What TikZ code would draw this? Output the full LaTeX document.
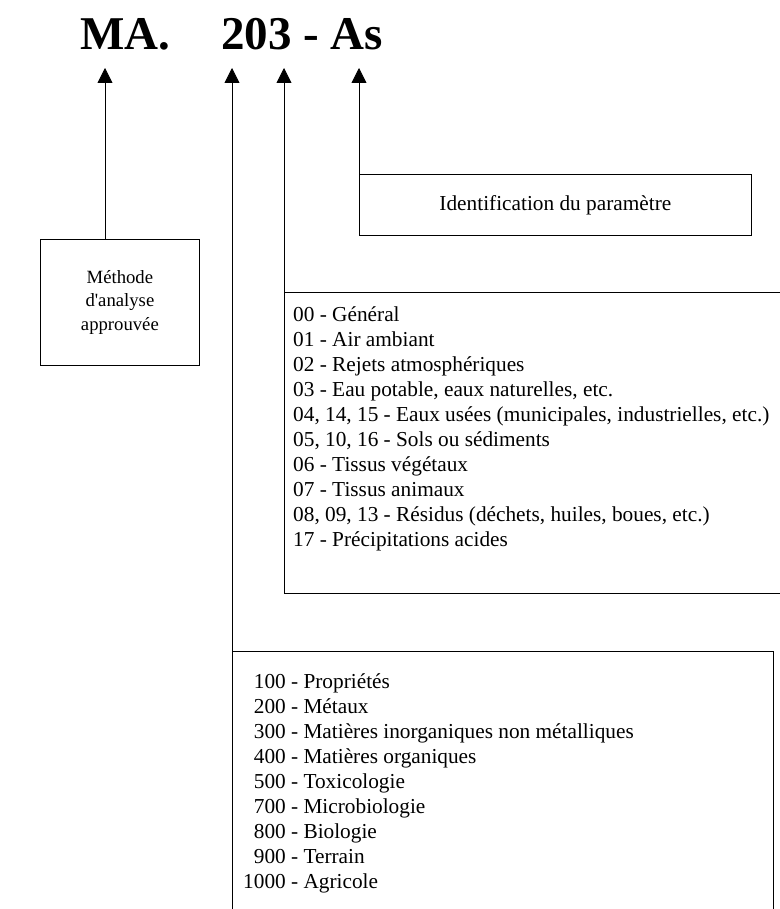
\documentclass[tikz,border=0pt]{standalone}
\usepackage{fontspec}
\setmainfont{Liberation Serif}
\usetikzlibrary{arrows.meta}
\begin{document}
\begin{tikzpicture}[x=1pt,y=-1pt,
  box/.style={draw=black, line width=0.8pt, inner sep=0pt, anchor=north west},
  ptr/.style={draw=black, line width=0.8pt, -{Triangle[width=15pt,length=15pt]}},
  listtext/.style={font=\fontsize{21.3}{25}\selectfont, inner sep=0pt, anchor=base west},
  titletext/.style={font=\fontsize{47}{50}\selectfont\bfseries, inner sep=0pt, anchor=base west}]
\useasboundingbox (0,0) rectangle (779,909);

% title
\node[titletext] (ma) at (80,50) {MA.};
\node[titletext] (code) at (221,50) {203 - As};

% arrow tips
\coordinate (tipMA) at (105,68);
\coordinate (tipGroup) at (232,68);
\coordinate (tipEnv) at (284,68);
\coordinate (tipPar) at (359,68);

% boxes
\node[box, minimum width=159pt, minimum height=126pt] (methode) at (40,239) {};
\node[align=center, inner sep=0pt, font=\fontsize{18.7}{23.5}\selectfont] (methodetext) at (methode.center) {Méthode\\d\textquotesingle analyse\\approuvée};

\node[box, minimum width=392pt, minimum height=61pt] (ident) at (359,174) {};
\node[inner sep=0pt, font=\fontsize{21.3}{25}\selectfont] (identtext) at (ident.center) {Identification du paramètre};

\node[box, minimum width=540pt, minimum height=301pt] (envbox) at (284,292) {};
\node[listtext] (envlist) at (293,321) {\begin{tabular}[t]{@{}l@{}}
00 - Général\\
01 - Air ambiant\\
02 - Rejets atmosphériques\\
03 - Eau potable, eaux naturelles, etc.\\
04, 14, 15 - Eaux usées (municipales, industrielles, etc.)\\
05, 10, 16 - Sols ou sédiments\\
06 - Tissus végétaux\\
07 - Tissus animaux\\
08, 09, 13 - Résidus (déchets, huiles, boues, etc.)\\
17 - Précipitations acides
\end{tabular}};

\node[box, minimum width=541pt, minimum height=320pt] (groupbox) at (232,651) {};
\node[listtext] (grouplist) at (243,688) {\begin{tabular}[t]{@{}r@{\ -\ }l@{}}
100 & Propriétés\\
200 & Métaux\\
300 & Matières inorganiques non métalliques\\
400 & Matières organiques\\
500 & Toxicologie\\
700 & Microbiologie\\
800 & Biologie\\
900 & Terrain\\
1000 & Agricole
\end{tabular}};

% connectors
\draw[ptr] (methode.north -| tipMA) -- (tipMA);
\draw[ptr] (groupbox.north west) -- (tipGroup);
\draw[ptr] (envbox.north west) -- (tipEnv);
\draw[ptr] (ident.north west) -- (tipPar);
\end{tikzpicture}
\end{document}
